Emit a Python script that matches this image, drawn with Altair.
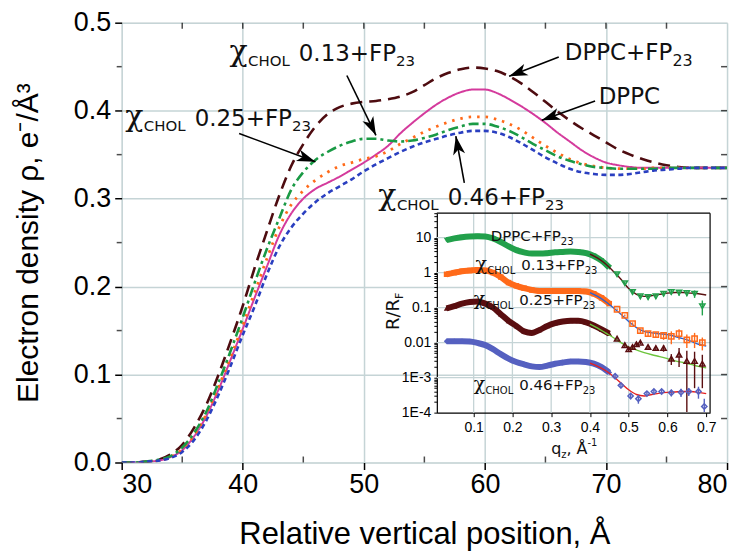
import math
import altair as alt
import pandas as pd

# ---------------- main chart data ----------------
position = list(range(30, 81))
rho_dppc_fp23 = [0, 0, 0.001, 0.003, 0.009, 0.02, 0.04, 0.066, 0.1, 0.138, 0.178, 0.222, 0.263, 0.303, 0.337,
                 0.362, 0.382, 0.396, 0.404, 0.408, 0.41, 0.411, 0.413, 0.416, 0.421, 0.429, 0.437, 0.443, 0.447,
                 0.449, 0.448, 0.445, 0.439, 0.431, 0.421, 0.41, 0.399, 0.389, 0.38, 0.372, 0.364, 0.356, 0.35,
                 0.345, 0.341, 0.338, 0.336, 0.335, 0.335, 0.335, 0.335]
rho_dppc = [0, 0, 0.001, 0.002, 0.006, 0.014, 0.03, 0.053, 0.083, 0.117, 0.152, 0.188, 0.223, 0.258, 0.283, 0.3,
            0.311, 0.318, 0.325, 0.333, 0.341, 0.35, 0.36, 0.374, 0.386, 0.397, 0.407, 0.415, 0.421, 0.424, 0.424,
            0.42, 0.413, 0.405, 0.396, 0.386, 0.375, 0.365, 0.355, 0.347, 0.341, 0.338, 0.336, 0.335, 0.335, 0.335,
            0.335, 0.335, 0.335, 0.335, 0.335]
rho_chol013 = [0, 0, 0.001, 0.002, 0.006, 0.015, 0.031, 0.055, 0.086, 0.12, 0.156, 0.194, 0.232, 0.267, 0.293,
               0.309, 0.321, 0.33, 0.337, 0.341, 0.345, 0.348, 0.354, 0.362, 0.369, 0.376, 0.382, 0.387, 0.391,
               0.393, 0.393, 0.39, 0.385, 0.378, 0.369, 0.36, 0.352, 0.345, 0.34, 0.337, 0.335, 0.334, 0.334,
               0.334, 0.335, 0.335, 0.335, 0.335, 0.335, 0.335, 0.335]
rho_chol025 = [0, 0, 0.001, 0.003, 0.007, 0.017, 0.034, 0.058, 0.091, 0.127, 0.165, 0.205, 0.243, 0.277, 0.31,
               0.33, 0.344, 0.353, 0.36, 0.365, 0.368, 0.368, 0.366, 0.365, 0.366, 0.369, 0.373, 0.378, 0.382,
               0.385, 0.385, 0.382, 0.377, 0.37, 0.362, 0.355, 0.348, 0.343, 0.339, 0.336, 0.335, 0.334, 0.334,
               0.334, 0.334, 0.335, 0.335, 0.335, 0.335, 0.335, 0.335]
rho_chol046 = [0, 0, 0.001, 0.002, 0.005, 0.012, 0.026, 0.048, 0.077, 0.11, 0.145, 0.178, 0.214, 0.245, 0.267,
               0.283, 0.296, 0.306, 0.314, 0.322, 0.331, 0.339, 0.346, 0.353, 0.359, 0.364, 0.368, 0.372, 0.375,
               0.377, 0.377, 0.375, 0.37, 0.363, 0.355, 0.347, 0.34, 0.334, 0.33, 0.328, 0.327, 0.327, 0.328,
               0.33, 0.332, 0.333, 0.334, 0.335, 0.335, 0.335, 0.335]

x_ticks = [30, 40, 50, 60, 70, 80]
y_ticks = [0.0, 0.1, 0.2, 0.3, 0.4, 0.5]
x_minor = [35, 45, 55, 65, 75]
y_minor = [0.05, 0.15, 0.25, 0.35, 0.45]

# ---------------- inset data (R/RF vs qz) ----------------
q_dense = [0.03, 0.05, 0.07, 0.09, 0.11, 0.13, 0.15, 0.17, 0.19, 0.21, 0.23, 0.25, 0.27, 0.29, 0.31, 0.33,
           0.35, 0.37, 0.39, 0.41, 0.43, 0.45]
r_dppc_dense = [8.5, 9.5, 10.3, 10.8, 11, 10.8, 9.5, 7.5, 5.6, 4.4, 3.8, 3.5, 3.5, 3.6, 3.8, 3.9, 4.0, 3.9,
                3.6, 3.0, 2.2, 1.4]
r_013_dense = [0.9, 1.0, 1.1, 1.15, 1.2, 1.15, 1.0, 0.75, 0.52, 0.42, 0.36, 0.32, 0.3, 0.3, 0.3, 0.3, 0.3,
               0.3, 0.29, 0.25, 0.19, 0.13]
r_025_dense = [0.095, 0.11, 0.13, 0.145, 0.15, 0.13, 0.1, 0.065, 0.042, 0.03, 0.021, 0.019, 0.023, 0.03, 0.036,
               0.04, 0.042, 0.042, 0.038, 0.031, 0.024, 0.018]
r_046_dense = [0.011, 0.011, 0.011, 0.0108, 0.0098, 0.0085, 0.0065, 0.0047, 0.0035, 0.0028, 0.0024, 0.0021,
               0.002, 0.0022, 0.0025, 0.0027, 0.0029, 0.0029, 0.0028, 0.0025, 0.002, 0.0014]

q_dppc_sp = [0.47, 0.49, 0.51, 0.53, 0.55, 0.57, 0.59, 0.61, 0.63, 0.65, 0.67, 0.69]
r_dppc_sp = [0.9, 0.5, 0.28, 0.21, 0.2, 0.21, 0.25, 0.28, 0.27, 0.26, 0.25, 0.11]
e_dppc_sp = [0.1, 0.06, 0.04, 0.03, 0.03, 0.03, 0.04, 0.05, 0.05, 0.05, 0.06, 0.05]
q_013_sp = [0.47, 0.49, 0.51, 0.53, 0.55, 0.57, 0.59, 0.61, 0.63, 0.65, 0.67, 0.69]
r_013_sp = [0.09, 0.06, 0.035, 0.022, 0.018, 0.017, 0.016, 0.015, 0.018, 0.012, 0.013, 0.01]
e_013_sp = [0.005, 0.004, 0.003, 0.003, 0.003, 0.003, 0.004, 0.006, 0.006, 0.005, 0.006, 0.004]
q_025_sp = [0.47, 0.49, 0.50, 0.51, 0.52, 0.53, 0.55, 0.57, 0.59, 0.61, 0.63, 0.65, 0.67, 0.69]
r_025_sp = [0.013, 0.0085, 0.0065, 0.0075, 0.009, 0.01, 0.0075, 0.007, 0.007, 0.0035, 0.0045, 0.003, 0.003,
            0.0025]
e_025_sp = [0.001, 0.001, 0.001, 0.001, 0.001, 0.001, 0.001, 0.0012, 0.0015, 0.0012, 0.0025, 0.0029, 0.0025,
            0.002]
q_046_sp = [0.465, 0.48, 0.505, 0.525, 0.547, 0.565, 0.585, 0.61, 0.635, 0.655, 0.68, 0.695]
r_046_sp = [0.0011, 0.0006, 0.0003, 0.00025, 0.00035, 0.0004, 0.0004, 0.00037, 0.00038, 0.0004, 0.0004,
            0.00015]
e_046_sp = [0.0001, 0.0001, 0.00006, 0.00007, 0.00005, 0.00005, 0.00006, 0.00008, 0.0001, 0.0001, 0.00015,
            0.0001]

q_fit = [0.40, 0.42, 0.44, 0.46, 0.48, 0.50, 0.52, 0.54, 0.56, 0.58, 0.60, 0.62, 0.64, 0.66, 0.68, 0.70]
fit_dppc = [3.4, 2.6, 1.8, 1.1, 0.65, 0.35, 0.24, 0.21, 0.22, 0.24, 0.26, 0.27, 0.27, 0.26, 0.25, 0.23]
fit_013 = [0.27, 0.21, 0.15, 0.1, 0.065, 0.04, 0.027, 0.021, 0.019, 0.018, 0.017, 0.015, 0.013, 0.011, 0.009,
           0.008]
fit_025 = [0.034, 0.026, 0.019, 0.014, 0.01, 0.0075, 0.0062, 0.0052, 0.0045, 0.004, 0.0035, 0.003, 0.0027,
           0.0024, 0.0021, 0.0019]
fit_046 = [0.0026, 0.0021, 0.0016, 0.0011, 0.0007, 0.00045, 0.00033, 0.0003, 0.00033, 0.00036, 0.00038,
           0.00039, 0.0004, 0.0004, 0.00038, 0.00035]

q_ticks = [0.1, 0.2, 0.3, 0.4, 0.5, 0.6, 0.7]

# ---------------- geometry / style ----------------
W, H = 607, 441
QMIN, QMAX = 0.005, 0.71
RMIN, RMAX = 1e-4, 50
INSET_X = [316, 590]
INSET_Y = [391, 191]
GRID = "#c5d4d6"
AX_FONT = "Liberation Sans"
TXT_FONT = "DejaVu Sans"
CHI_FONT = "DejaVu Serif"

main_x = alt.Scale(domain=[30, 80], nice=False, zero=False)
main_y = alt.Scale(domain=[0, 0.5], nice=False, zero=False)
ins_x = alt.Scale(domain=[QMIN, QMAX], range=INSET_X, nice=False, zero=False)
ins_y = alt.Scale(type="log", domain=[RMIN, RMAX], range=INSET_Y, nice=False)

px_per_x = W / 50.0
px_per_y = H / 0.5
px_per_q = (INSET_X[1] - INSET_X[0]) / (QMAX - QMIN)
px_per_dec = (INSET_Y[0] - INSET_Y[1]) / (math.log10(RMAX) - math.log10(RMIN))

CW = {"0": .636, "1": .636, "2": .636, "3": .636, "4": .636, "5": .636, "6": .636, "7": .636, "8": .636,
      "9": .636, ".": .318, "+": .838, " ": .318, "C": .698, "H": .752, "O": .787, "L": .557, "D": .770,
      "P": .603, "F": .575, "χ": .62, "R": .695, "/": .337, "q": .635, "z": .525, ",": .318, "Å": .684,
      "-": .361}


def tw(t, s):
    return sum(CW.get(c, 0.6) for c in t) * s


def segments(x0, y0, parts, main=True):
    # parts: (text, font size, baseline shift px, gap before px)
    rows = []
    off = 0.0
    for t, s, dy, gap in parts:
        off += gap
        font = CHI_FONT if t == "χ" else TXT_FONT
        if main:
            rows.append({"x": x0 + off / px_per_x, "y": y0 - dy / px_per_y, "t": t, "fs": s, "f": font})
        else:
            rows.append({"x": x0 + off / px_per_q, "y": y0 * 10 ** (-dy / px_per_dec), "t": t, "fs": s,
                         "f": font})
        off += tw(t, s)
    return rows


def chi_parts(val, big, small, norm, sub, gap):
    return [("χ", big, 0, 0), ("CHOL", small, sub, 0), (val + "+FP", norm, 0, gap), ("23", small, sub, 0)]


# ---------------- main curves ----------------
curves = [
    ("DPPC+FP23", rho_dppc_fp23, "#4e0c10", [12, 7], 2.6),
    ("DPPC", rho_dppc, "#d43a9c", [1, 0], 2.0),
    ("CHOL 0.13+FP23", rho_chol013, "#ff6a1a", [2.5, 6], 2.8),
    ("CHOL 0.25+FP23", rho_chol025, "#1a9a45", [10, 4, 3, 4], 2.6),
    ("CHOL 0.46+FP23", rho_chol046, "#2a3fc0", [5, 3.5], 2.6),
]

x_axis = alt.Axis(values=x_ticks, format="d", title="Relative vertical position, Å", grid=True,
                  gridColor=GRID, gridWidth=1.5, domain=False, tickColor="black", tickSize=7,
                  tickWidth=1.5, labelFont=AX_FONT, labelFontSize=27, labelColor="black", labelPadding=2,
                  titleFont=AX_FONT, titleFontSize=31, titleFontWeight="normal", titleColor="black",
                  titleY=81, titleBaseline="alphabetic")
y_axis = alt.Axis(values=y_ticks, format=".1f", title="Electron density ρ, e⁻/Å³", grid=True,
                  gridColor=GRID, gridWidth=1.5, domain=False, tickColor="black", tickSize=7,
                  tickWidth=1.5, labelFont=AX_FONT, labelFontSize=27, labelColor="black", labelPadding=4,
                  titleFont=AX_FONT, titleFontSize=30, titleFontWeight="normal", titleColor="black",
                  titleX=-84, titleY=H / 2, titleAngle=270, titleAlign="center", titleBaseline="alphabetic")

layers = []
for i, (name, vals, col, dash, sw) in enumerate(curves):
    df = pd.DataFrame({"x": position, "y": vals})
    layers.append(
        alt.Chart(df).mark_line(color=col, strokeDash=dash, strokeWidth=sw, interpolate="monotone",
                                clip=True).encode(
            x=alt.X("x:Q", scale=main_x, axis=x_axis if i == 0 else None),
            y=alt.Y("y:Q", scale=main_y, axis=y_axis if i == 0 else None),
        )
    )

# minor ticks and frame ticks
tick_rows_in = pd.DataFrame({"x": x_minor, "y": [0] * len(x_minor)})
layers.append(alt.Chart(tick_rows_in).mark_tick(orient="vertical", size=6, thickness=1.5, color="black",
                                                yOffset=-3).encode(
    x=alt.X("x:Q", scale=main_x, axis=None), y=alt.Y("y:Q", scale=main_y, axis=None)))
top_rows = pd.DataFrame({"x": x_minor + x_ticks[1:-1], "y": [0.5] * (len(x_minor) + 4)})
layers.append(alt.Chart(top_rows).mark_tick(orient="vertical", size=6, thickness=1.5, color="black",
                                            yOffset=3).encode(
    x=alt.X("x:Q", scale=main_x, axis=None), y=alt.Y("y:Q", scale=main_y, axis=None)))
left_rows = pd.DataFrame({"x": [30] * len(y_minor), "y": y_minor})
layers.append(alt.Chart(left_rows).mark_tick(orient="horizontal", size=5, thickness=1.5, color="black",
                                             xOffset=-2.5).encode(
    x=alt.X("x:Q", scale=main_x, axis=None), y=alt.Y("y:Q", scale=main_y, axis=None)))
right_rows = pd.DataFrame({"x": [80] * 9, "y": y_minor + y_ticks[1:-1]})
layers.append(alt.Chart(right_rows).mark_tick(orient="horizontal", size=6, thickness=1.5, color="black",
                                              xOffset=-3).encode(
    x=alt.X("x:Q", scale=main_x, axis=None), y=alt.Y("y:Q", scale=main_y, axis=None)))

# annotations (main)
ann_rows = []
ann_rows += segments(38.9, 0.456, chi_parts("0.13", 30, 15, 23, 5, 9))
ann_rows += segments(66.6, 0.458, [("DPPC+FP", 23, 0, 0), ("23", 16, 6, 0)])
ann_rows += segments(69.4, 0.408, [("DPPC", 23, 0, 0)])
ann_rows += segments(30.3, 0.383, chi_parts("0.25", 30, 15, 23, 5, 9))
ann_rows += segments(51.2, 0.293, chi_parts("0.46", 30, 15, 23, 5, 9))
ann_df = pd.DataFrame(ann_rows)
for fnt in [TXT_FONT, CHI_FONT]:
    layers.append(alt.Chart(ann_df[ann_df["f"] == fnt]).mark_text(
        align="left", baseline="alphabetic", font=fnt, color="#111111").encode(
        x=alt.X("x:Q", scale=main_x, axis=None), y=alt.Y("y:Q", scale=main_y, axis=None),
        text="t:N", size=alt.Size("fs:Q", scale=None)))

arrows = [
    (48.6, 0.44, 51.0, 0.372),
    (66.1, 0.461, 62.0, 0.439),
    (69.1, 0.411, 64.7, 0.389),
    (39.7, 0.374, 46.0, 0.342),
    (58.3, 0.318, 57.6, 0.371),
]
arr_df = pd.DataFrame(arrows, columns=["x1", "y1", "x2", "y2"])
arr_df["ang"] = [
    (math.degrees(math.atan2((x2 - x1) * px_per_x, (y2 - y1) * px_per_y)) + 360) % 360
    for x1, y1, x2, y2 in arrows
]
layers.append(alt.Chart(arr_df).mark_rule(color="black", strokeWidth=1.6).encode(
    x=alt.X("x1:Q", scale=main_x, axis=None), y=alt.Y("y1:Q", scale=main_y, axis=None),
    x2="x2:Q", y2="y2:Q"))
ARROW = "M0,0 L0.62,1.9 L0,1.4 L-0.62,1.9 Z"
layers.append(alt.Chart(arr_df).mark_point(shape=ARROW, filled=True, size=380, color="black", opacity=1,
                                           strokeWidth=0).encode(
    x=alt.X("x2:Q", scale=main_x, axis=None), y=alt.Y("y2:Q", scale=main_y, axis=None),
    angle=alt.Angle("ang:Q", scale=None)))

# ---------------- inset ----------------
grid_v = pd.DataFrame({"q": [0.1, 0.2, 0.3, 0.4, 0.5, 0.6], "lo": RMIN, "hi": RMAX})
grid_h = pd.DataFrame({"r": [1e-3, 1e-2, 1e-1, 1, 10], "lo": QMIN, "hi": QMAX})
layers.append(alt.Chart(grid_v).mark_rule(color=GRID, strokeWidth=1.3).encode(
    x=alt.X("q:Q", scale=ins_x, axis=None), y=alt.Y("lo:Q", scale=ins_y, axis=None), y2="hi:Q"))
layers.append(alt.Chart(grid_h).mark_rule(color=GRID, strokeWidth=1.3).encode(
    y=alt.Y("r:Q", scale=ins_y, axis=None), x=alt.X("lo:Q", scale=ins_x, axis=None), x2="hi:Q"))
frame = pd.DataFrame({"x1": [QMIN, QMAX], "x2": [QMAX, QMAX], "y1": [RMAX, RMIN], "y2": [RMAX, RMAX]})
layers.append(alt.Chart(frame).mark_rule(color="black", strokeWidth=1.2).encode(
    x=alt.X("x1:Q", scale=ins_x, axis=None), y=alt.Y("y1:Q", scale=ins_y, axis=None), x2="x2:Q", y2="y2:Q"))

r_minor_vals = [m * d for d in [1e-4, 1e-3, 1e-2, 1e-1, 1, 10] for m in range(1, 10) if m * d <= RMAX]
ins_x_axis = alt.Axis(values=q_ticks, format=".1f", orient="bottom", offset=-50, grid=False,
                      domainColor="black", domainWidth=1.2, tickColor="black", tickSize=4, tickWidth=1,
                      labelFont=AX_FONT, labelFontSize=14, labelColor="black", labelPadding=4, title=None)
ins_y_axis = alt.Axis(values=r_minor_vals, orient="left", offset=-316, grid=False,
                      domainColor="black", domainWidth=1.2, tickColor="black", tickSize=3, tickWidth=1,
                      labelFont=AX_FONT, labelFontSize=14, labelColor="black", labelPadding=3, title=None,
                      labelExpr="datum.value < 0.00015 ? '1E-4' : (abs(datum.value - 0.001) < 1e-9 ? '1E-3' :"
                                " (abs(datum.value - 0.01) < 1e-9 ? '0.01' : (abs(datum.value - 0.1) < 1e-8 ? '0.1' :"
                                " (abs(datum.value - 1) < 1e-7 ? '1' : (abs(datum.value - 10) < 1e-6 ? '10' : '')))))")

inset_series = [
    (q_dense, r_dppc_dense, q_dppc_sp, r_dppc_sp, e_dppc_sp, fit_dppc, "#22a04b", "#5a1010", "triangle-down"),
    (q_dense, r_013_dense, q_013_sp, r_013_sp, e_013_sp, fit_013, "#ff6a1a", "#2d62d0", "square"),
    (q_dense, r_025_dense, q_025_sp, r_025_sp, e_025_sp, fit_025, "#5a0e10", "#6cc43c", "triangle-up"),
    (q_dense, r_046_dense, q_046_sp, r_046_sp, e_046_sp, fit_046, "#5560c0", "#e52222", "diamond"),
]
for i, (qd, rd, qs, rs, es, fit, col, fcol, shp) in enumerate(inset_series):
    dd = pd.DataFrame({"q": qd, "r": rd})
    layers.append(alt.Chart(dd).mark_line(color=col, strokeWidth=6, interpolate="monotone").encode(
        x=alt.X("q:Q", scale=ins_x, axis=ins_x_axis if i == 0 else None),
        y=alt.Y("r:Q", scale=ins_y, axis=ins_y_axis if i == 0 else None)))
    layers.append(alt.Chart(dd).mark_point(shape=shp, filled=True, size=30, color=col, opacity=1).encode(
        x=alt.X("q:Q", scale=ins_x, axis=None), y=alt.Y("r:Q", scale=ins_y, axis=None)))
    sd = pd.DataFrame({"q": qs, "r": rs, "lo": [max(r - e, 1.05e-4) for r, e in zip(rs, es)],
                       "hi": [r + e for r, e in zip(rs, es)]})
    fd = pd.DataFrame({"q": q_fit, "r": fit})
    layers.append(alt.Chart(fd).mark_line(color=fcol, strokeWidth=1.4, interpolate="monotone").encode(
        x=alt.X("q:Q", scale=ins_x, axis=None), y=alt.Y("r:Q", scale=ins_y, axis=None)))
    layers.append(alt.Chart(sd).mark_rule(color=col, strokeWidth=1.4).encode(
        x=alt.X("q:Q", scale=ins_x, axis=None), y=alt.Y("lo:Q", scale=ins_y, axis=None), y2="hi:Q"))
    layers.append(alt.Chart(sd).mark_point(shape=shp, filled=False, size=28, color=col, strokeWidth=1.5,
                                           opacity=1).encode(
        x=alt.X("q:Q", scale=ins_x, axis=None), y=alt.Y("r:Q", scale=ins_y, axis=None)))

ins_rows = []
ins_rows += segments(0.144, 7.9, [("DPPC+FP", 15, 0, 0), ("23", 10, 4, 0)], main=False)
ins_rows += segments(0.105, 1.19, chi_parts("0.13", 19, 10, 15, 4, 6), main=False)
ins_rows += segments(0.100, 0.12, chi_parts("0.25", 19, 10, 15, 4, 6), main=False)
ins_rows += segments(0.100, 4.5e-4, chi_parts("0.46", 19, 10, 15, 4, 6), main=False)
ins_rows += segments(0.30, 6.4e-6, [("q", 16, 0, 0), ("z", 10, 4, 0), (",", 16, 0, 0), ("Å", 16, 0, 5),
                                    ("-1", 10, -8, 0)], main=False)
ins_df = pd.DataFrame(ins_rows)
for fnt in [TXT_FONT, CHI_FONT]:
    layers.append(alt.Chart(ins_df[ins_df["f"] == fnt]).mark_text(
        align="left", baseline="alphabetic", font=fnt, color="#111111").encode(
        x=alt.X("x:Q", scale=ins_x, axis=None), y=alt.Y("y:Q", scale=ins_y, axis=None),
        text="t:N", size=alt.Size("fs:Q", scale=None)))

# rotated inset y title "R/R_F"
rt = [{"x": -0.093, "y": 0.023, "t": "R/R", "fs": 18}]
w_rr = tw("R/R", 18)
rt.append({"x": -0.093 + 4 / px_per_q, "y": 0.023 * 10 ** (w_rr / px_per_dec), "t": "F", "fs": 11})
layers.append(alt.Chart(pd.DataFrame(rt)).mark_text(align="left", baseline="alphabetic", font=TXT_FONT,
                                                    angle=270, color="#111111").encode(
    x=alt.X("x:Q", scale=ins_x, axis=None), y=alt.Y("y:Q", scale=ins_y, axis=None),
    text="t:N", size=alt.Size("fs:Q", scale=None)))

chart = alt.layer(*layers).resolve_scale(x="independent", y="independent").properties(
    width=W, height=H,
    autosize=alt.AutoSizeParams(type="none"),
    padding={"left": 114, "top": 14, "right": 15, "bottom": 88},
).configure_view(stroke="black", strokeWidth=1.6).configure(background="white")

chart.save("out.html", embed_options={"renderer": "svg", "actions": False})
